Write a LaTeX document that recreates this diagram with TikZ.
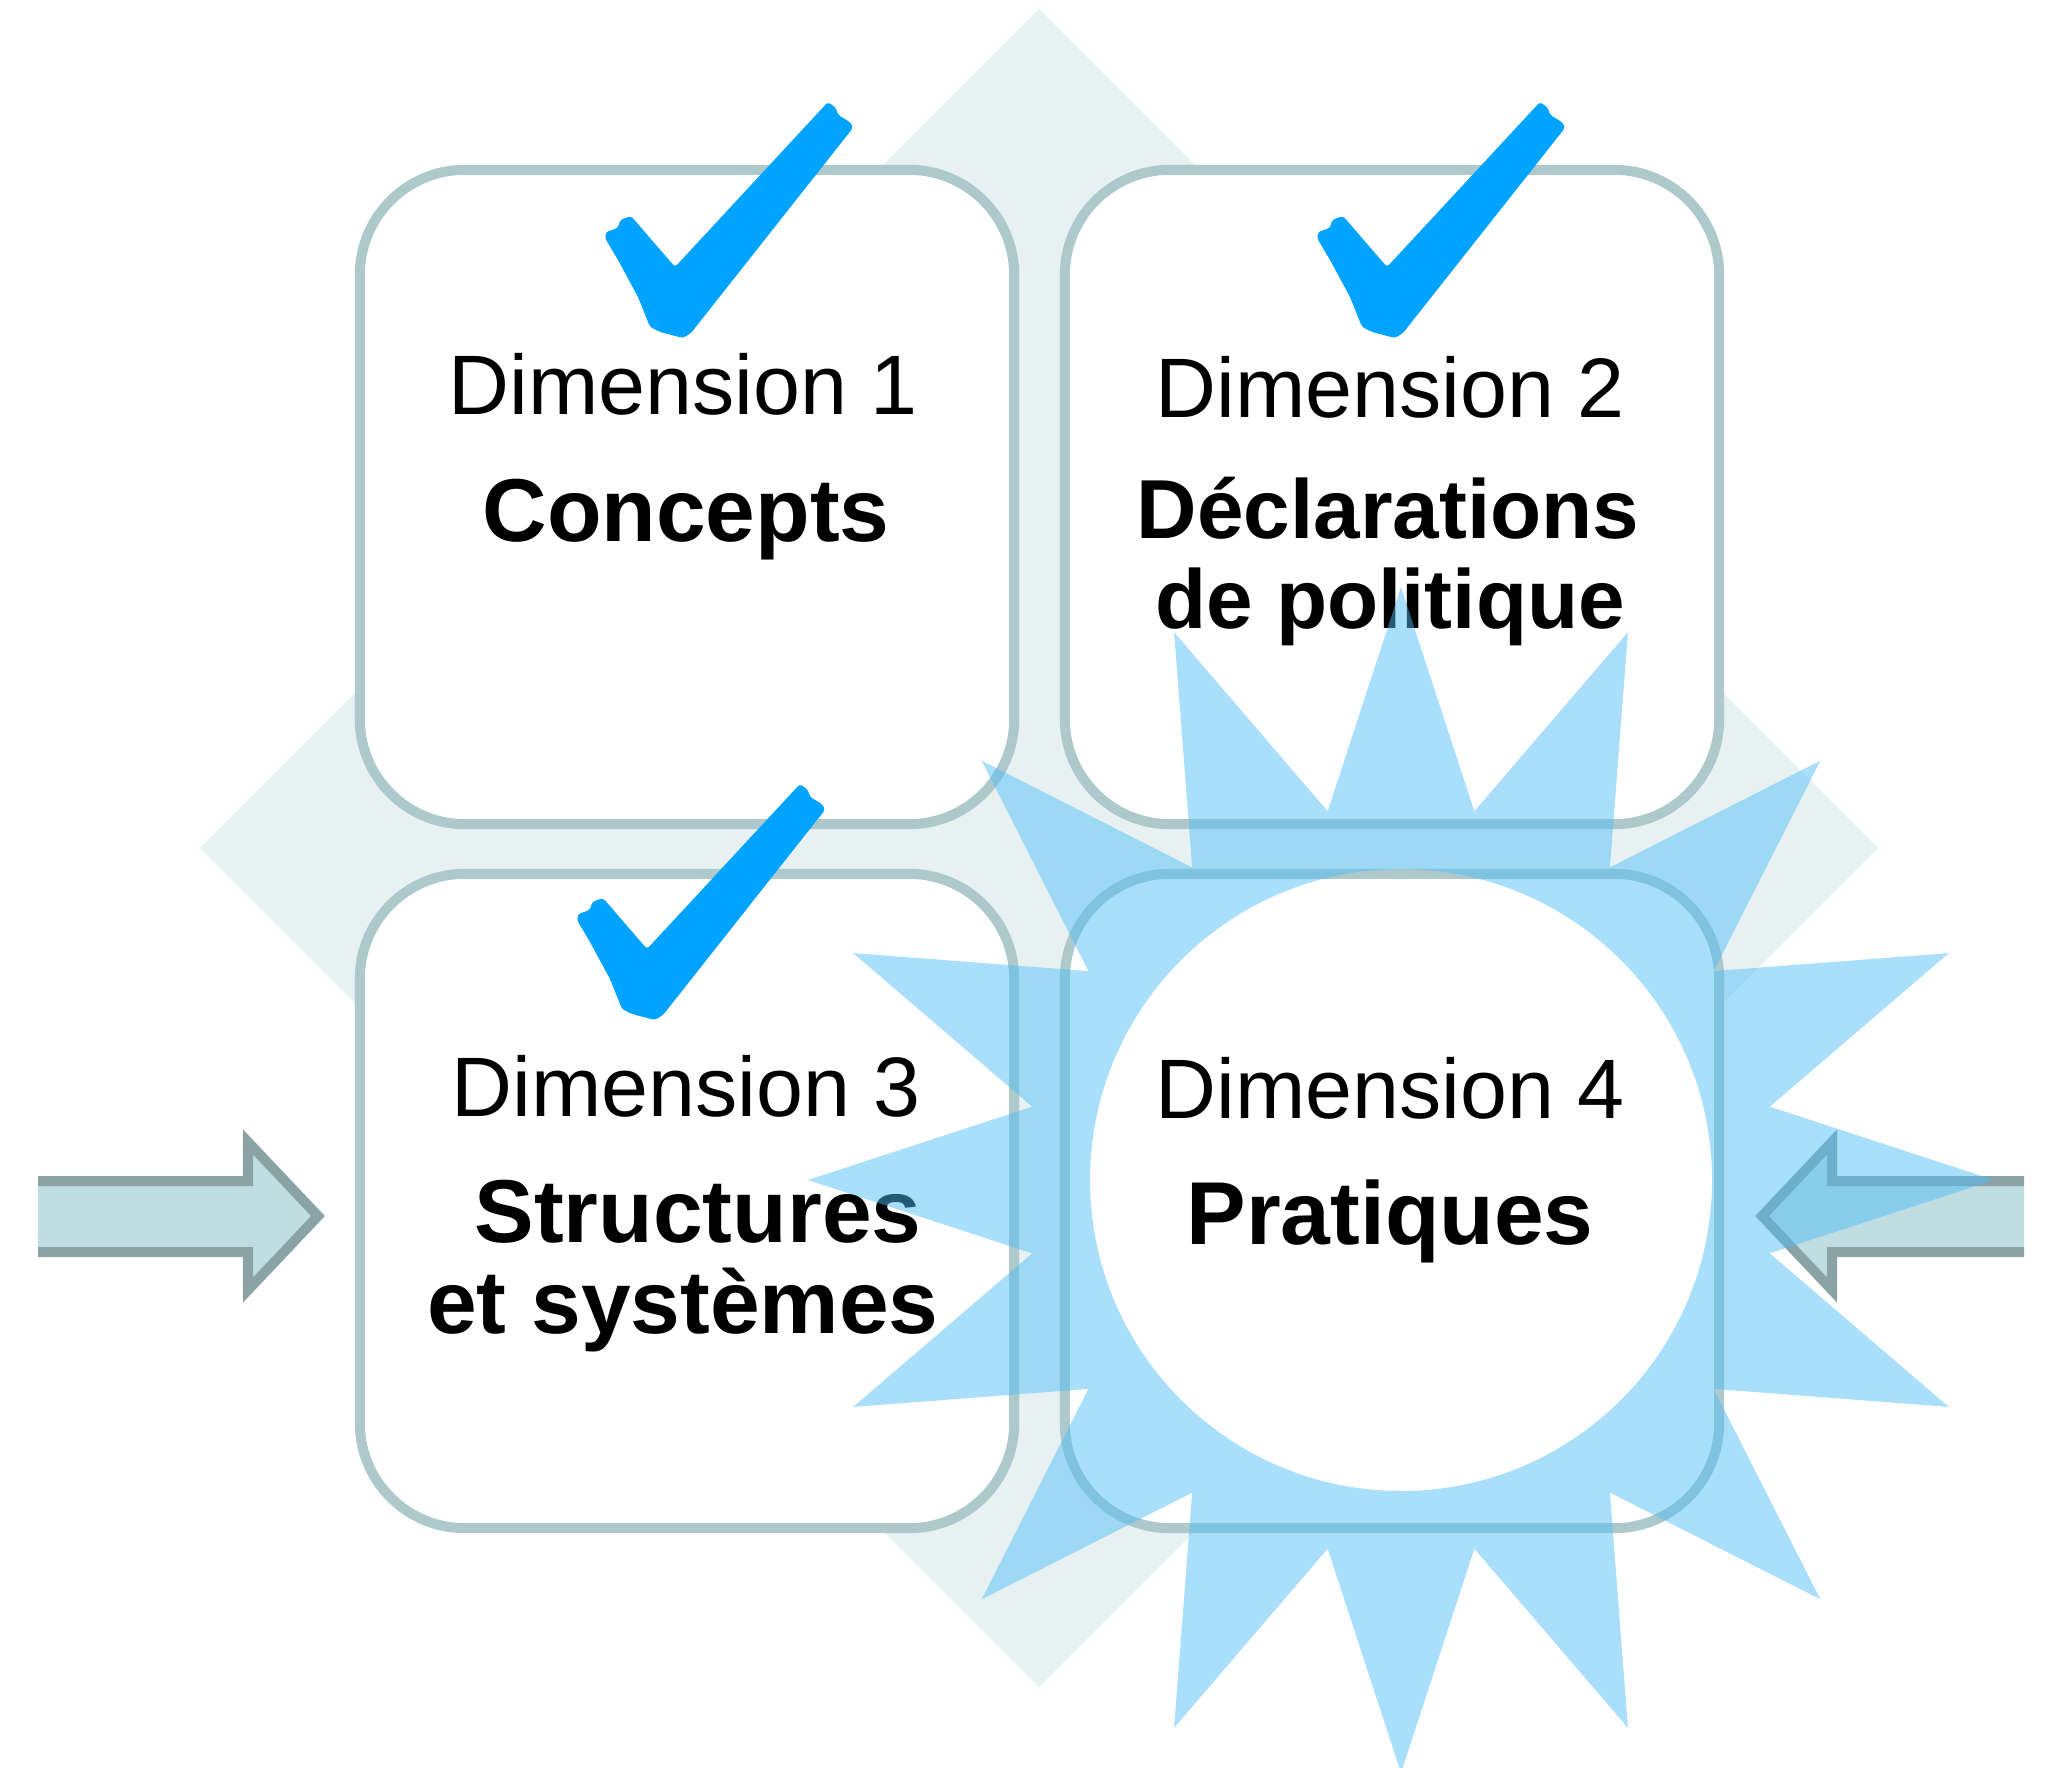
\documentclass[tikz,border=0pt]{standalone}
\usepackage{fontspec}
\setmainfont{Liberation Sans}
\usepackage{tikz}

\definecolor{diamondgray}{HTML}{E8F1F2}
\definecolor{boxline}{HTML}{AEC9CC}
\definecolor{arrowfill}{HTML}{C0DEE1}
\definecolor{arrowline}{HTML}{8CA3A5}
\definecolor{starblue}{HTML}{4DBDF8}
\definecolor{tickblue}{HTML}{00A4FF}

\begin{document}
\begin{tikzpicture}[x=0.01cm, y=-0.01cm, line width=2.85pt,
    dimbox/.style={draw=boxline, fill=white, rounded corners=1.05cm,
        minimum width=6.54cm, minimum height=6.54cm, inner sep=0pt},
    dimlabel/.style={anchor=base, inner sep=0pt, font=\fontsize{24}{24}\selectfont},
    dimtitle/.style={anchor=base, inner sep=0pt, font=\bfseries\fontsize{25.4}{25.4}\selectfont},
    blockarrow/.style={fill=arrowfill, draw=arrowline, line join=miter},
    checkmark/.pic={
        \fill [tickblue, rounded corners=0.03cm] (0,0) -- (-23,-6) -- (-33,-11) -- (-45,-41)
            -- (-65,-78) -- (-78,-100) -- (-77,-106) -- (-65,-110) -- (-63,-118) -- (-52,-122)
            -- (-8,-71) -- (145,-236) -- (153,-230) -- (155,-223) -- (162,-219) -- (168,-215)
            -- (170,-210) -- (162,-200) -- (8,-5) -- cycle;
    }]
    \useasboundingbox (0,0) rectangle (2049,1767);

    \fill [diamondgray] (1039,9) -- (1878,848) -- (1039,1687) -- (200,848) -- cycle;

    \node [dimbox] (box1) at (687,497) {};
    \node [dimbox] (box2) at (1392,497) {};
    \node [dimbox] (box3) at (687,1201) {};
    \node [dimbox] (box4) at (1392,1201) {};

    \node [dimlabel] (dim1) at (683,414) {Dimension 1};
    \node [dimtitle] (concepts) at (686,541) {Concepts};

    \node [dimlabel] (dim2) at (1390,417) {Dimension 2};
    \node [dimtitle, font=\bfseries\fontsize{23.8}{23.8}\selectfont] (declarations) at (1388,538) {Déclarations};
    \node [dimtitle, font=\bfseries\fontsize{23.8}{23.8}\selectfont] (politique) at (1390,628) {de politique};

    \node [dimlabel] (dim3) at (686,1116) {Dimension 3};
    \node [dimtitle] (structures) at (698,1242) {Structures};
    \node [dimtitle] (systemes) at (683,1333) {et systèmes};

    \filldraw [blockarrow] (38,1181) -- (248,1181) -- (248,1142) -- (318,1216)
        -- (248,1290) -- (248,1252) -- (38,1252);
    \filldraw [blockarrow] (2024,1181) -- (1832,1181) -- (1832,1142) -- (1762,1216)
        -- (1832,1290) -- (1832,1252) -- (2024,1252);

    \begin{scope}[shift={(1401,1180)}]
        \fill [starblue, fill opacity=0.48, even odd rule] (90:593)
            \foreach \k in {0,...,15} { -- ({101.25+22.5*\k}:376) -- ({112.5+22.5*\k}:593) }
            -- cycle (0,0) circle (311);
    \end{scope}

    \node [dimlabel] (dim4) at (1390,1118) {Dimension 4};
    \node [dimtitle] (pratiques) at (1390,1244) {Pratiques};

    \pic at (683,338) {checkmark};
    \pic at (1395,338) {checkmark};
    \pic at (655,1020) {checkmark};
\end{tikzpicture}
\end{document}
